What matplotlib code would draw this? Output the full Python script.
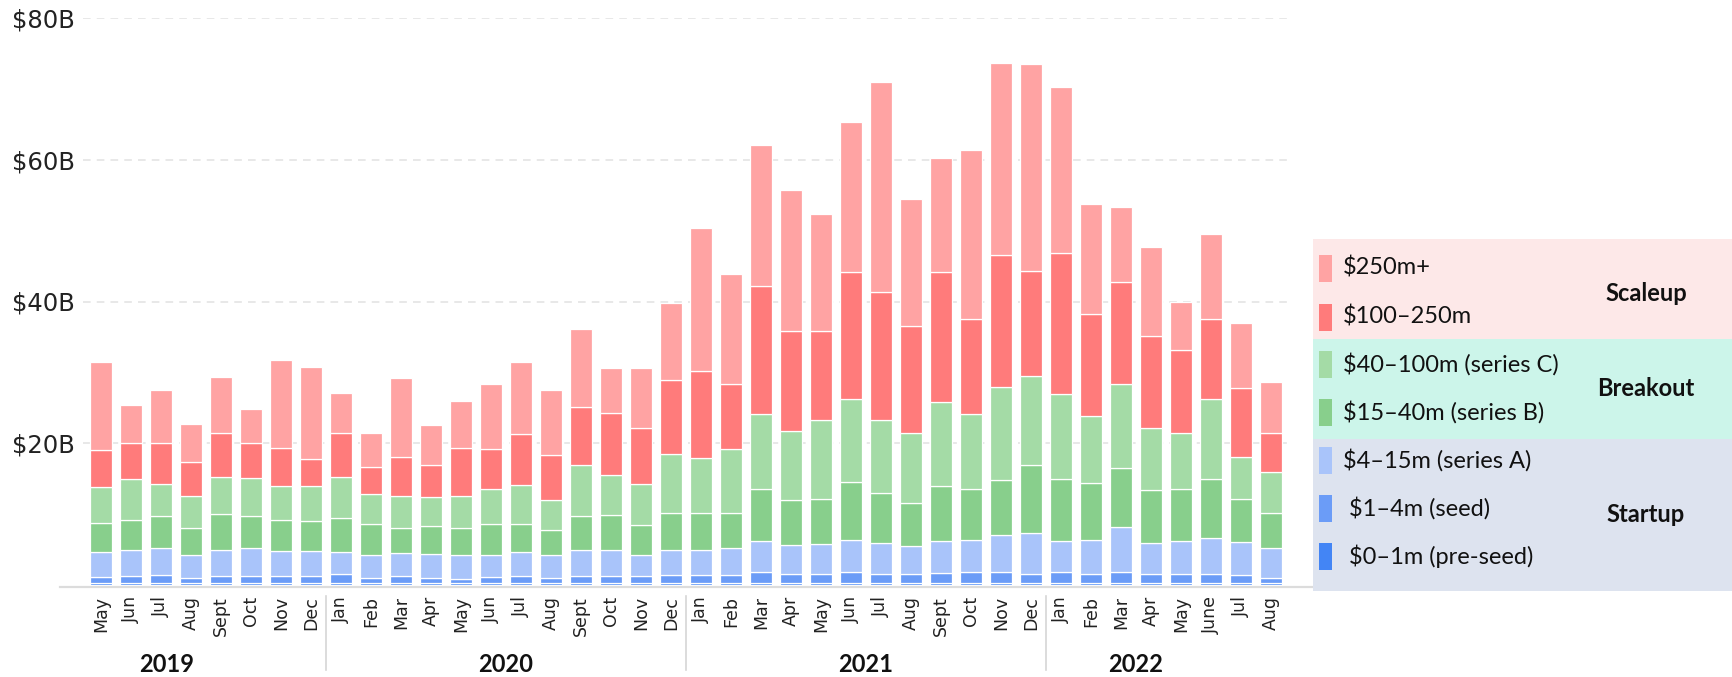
import matplotlib
matplotlib.use("Agg")
import matplotlib.pyplot as plt
import matplotlib.transforms as mtransforms
from matplotlib.patches import Rectangle
from matplotlib.lines import Line2D
import numpy as np

# Month labels (May 2019 - Aug 2022)
months = ["May", "Jun", "Jul", "Aug", "Sept", "Oct", "Nov", "Dec",
          "Jan", "Feb", "Mar", "Apr", "May", "Jun", "Jul", "Aug", "Sept", "Oct", "Nov", "Dec",
          "Jan", "Feb", "Mar", "Apr", "May", "Jun", "Jul", "Aug", "Sept", "Oct", "Nov", "Dec",
          "Jan", "Feb", "Mar", "Apr", "May", "June", "Jul", "Aug"]
years = ["2019", "2020", "2021", "2022"]
year_pos = [2.2, 13.5, 25.5, 34.5]
year_breaks = [7.5, 19.5, 31.5]

# Funding by round size, $B per month
pre_seed = [0.3] * 40
seed = [0.8, 1.0, 1.1, 0.7, 0.9, 1.0, 0.9, 1.0,
        1.2, 0.7, 1.0, 0.7, 0.6, 0.8, 0.9, 0.7, 0.9, 1.0, 0.9, 1.1,
        1.1, 1.1, 1.5, 1.3, 1.2, 1.5, 1.3, 1.2, 1.4, 1.5, 1.5, 1.3,
        1.5, 1.2, 1.5, 1.2, 1.2, 1.2, 1.1, 0.7]
series_a = [3.6, 3.7, 3.8, 3.2, 3.8, 3.9, 3.6, 3.5,
            3.2, 3.3, 3.2, 3.4, 3.4, 3.2, 3.5, 3.2, 3.7, 3.7, 3.0, 3.5,
            3.5, 3.8, 4.4, 4.1, 4.3, 4.6, 4.3, 4.0, 4.5, 4.5, 5.2, 5.7,
            4.4, 4.9, 6.4, 4.4, 4.7, 5.1, 4.7, 4.2]
series_b = [4.0, 4.2, 4.6, 3.9, 5.0, 4.5, 4.4, 4.2,
            4.7, 4.3, 3.5, 3.9, 3.8, 4.3, 3.9, 3.5, 4.8, 4.9, 4.3, 5.3,
            5.3, 5.0, 7.4, 6.3, 6.4, 8.1, 7.1, 6.1, 7.7, 7.3, 7.8, 9.6,
            8.8, 8.0, 8.3, 7.5, 7.3, 8.4, 6.0, 5.0]
series_c = [5.1, 5.7, 4.4, 4.4, 5.2, 5.4, 4.8, 5.0,
            5.8, 4.3, 4.6, 4.1, 4.5, 5.0, 5.5, 4.3, 7.3, 5.6, 5.7, 8.3,
            7.7, 9.0, 10.5, 9.7, 11.1, 11.7, 10.3, 9.8, 11.9, 10.5, 13.2, 12.6,
            12.0, 9.4, 11.9, 8.7, 8.0, 11.2, 6.0, 5.8]
r100_250 = [5.2, 5.2, 5.8, 4.8, 6.2, 4.9, 5.4, 3.8,
            6.3, 3.8, 5.4, 4.5, 6.8, 5.6, 7.2, 6.3, 8.1, 8.7, 7.9, 10.4,
            12.3, 9.2, 18.1, 14.2, 12.6, 17.9, 18.1, 15.1, 18.3, 13.5, 18.6, 14.8,
            19.9, 14.5, 14.4, 13.1, 11.7, 11.3, 9.7, 5.4]
r250_plus = [12.4, 5.3, 7.5, 5.4, 8.0, 4.9, 12.3, 13.0,
             5.6, 4.7, 11.2, 5.7, 6.6, 9.1, 10.1, 9.2, 11.0, 6.4, 8.5, 10.9,
             20.1, 15.5, 19.9, 19.9, 16.5, 21.2, 29.5, 18.0, 16.2, 23.8, 27.1, 29.2,
             23.3, 15.5, 10.6, 12.5, 6.7, 12.0, 9.1, 7.2]

series = [
    ("$0\u20131m (pre-seed)", pre_seed, "#4385f5"),
    ("$1\u20134m (seed)", seed, "#6b9cf7"),
    ("$4\u201315m (series A)", series_a, "#a9c4fa"),
    ("$15\u201340m (series B)", series_b, "#88cf8c"),
    ("$40\u2013100m (series C)", series_c, "#a4dba6"),
    ("$100\u2013250m", r100_250, "#ff7b7b"),
    ("$250m+", r250_plus, "#ffa3a3"),
]

W, H = 1733, 677
fig = plt.figure(figsize=(W / 100, H / 100), dpi=100)
fig.patch.set_facecolor("white")


def fx(x):
    return x / W


def fy(y):
    return 1 - y / H


ax = fig.add_axes([fx(83), fy(585), fx(1287) - fx(83), fy(18) - fy(585)])
ax.patch.set_visible(False)

x = np.arange(len(months))
bottom = np.zeros(len(months))
for label, vals, color in series:
    vals = np.array(vals, dtype=float)
    ax.bar(x, vals, bottom=bottom, width=0.72, color=color,
           edgecolor="white", linewidth=0.9, zorder=3)
    bottom += vals

ax.set_xlim(-0.6, 39.53)
ax.set_ylim(0, 80)
ax.set_yticks([20, 40, 60, 80])
ax.set_yticklabels(["$20B", "$40B", "$60B", "$80B"])
ax.yaxis.grid(True, linestyle=(0, (5, 4)), color="#e2e2e2", linewidth=1.1, zorder=0)
ax.tick_params(axis="y", length=0, pad=6, labelsize=17.5, labelcolor="#222222")
ax.set_xticks(x)
ax.set_xticklabels(months, rotation=90, fontsize=12.5, color="#222222")
ax.tick_params(axis="x", length=0, pad=8)
for s in ax.spines.values():
    s.set_visible(False)

# baseline running under the bars out to the legend panel
fig.add_artist(Line2D([fx(60), fx(1312)], [fy(587), fy(587)], transform=fig.transFigure,
                      color="#dcdcdc", linewidth=1.6, zorder=-1))

# year separators and labels
for b in year_breaks:
    ax.plot([b, b], [-0.02, -0.15], transform=ax.get_xaxis_transform(),
            color="#d6d6d6", linewidth=1.2, clip_on=False)
year_tf = mtransforms.blended_transform_factory(ax.transData, fig.transFigure)
for yr, pos in zip(years, year_pos):
    ax.text(pos, fy(664), yr, transform=year_tf,
            ha="center", va="center", fontsize=17, fontweight="bold",
            family="Lato", color="#111111")

# legend panel with group bands
bands = [("Scaleup", 239, 339, "#fde8e8", 293),
         ("Breakout", 339, 439, "#ccf5ea", 389),
         ("Startup", 439, 591, "#dde3ef", 515)]
for name, y0, y1, col, ty in bands:
    fig.add_artist(Rectangle((fx(1313), fy(y1)), fx(W) - fx(1313), fy(y0) - fy(y1),
                             transform=fig.transFigure, facecolor=col, edgecolor="none"))
    fig.text(fx(1646), fy(ty), name, ha="center", va="center", fontsize=17,
             fontweight="bold", family="Lato", color="#111111")

entry_y = [268, 317, 364, 412, 460, 508, 556]
for (label, vals, color), ey in zip(series[::-1], entry_y):
    fig.add_artist(Rectangle((fx(1319), fy(ey + 13.5)), fx(1332) - fx(1319),
                             fy(ey - 13.5) - fy(ey + 13.5),
                             transform=fig.transFigure, facecolor=color, edgecolor="none"))
    text = (" " + label) if "seed" in label else label
    fig.text(fx(1343), fy(ey), text, ha="left", va="center", fontsize=17,
             family="Lato", color="#111111")

fig.savefig("out.png", dpi=100)
